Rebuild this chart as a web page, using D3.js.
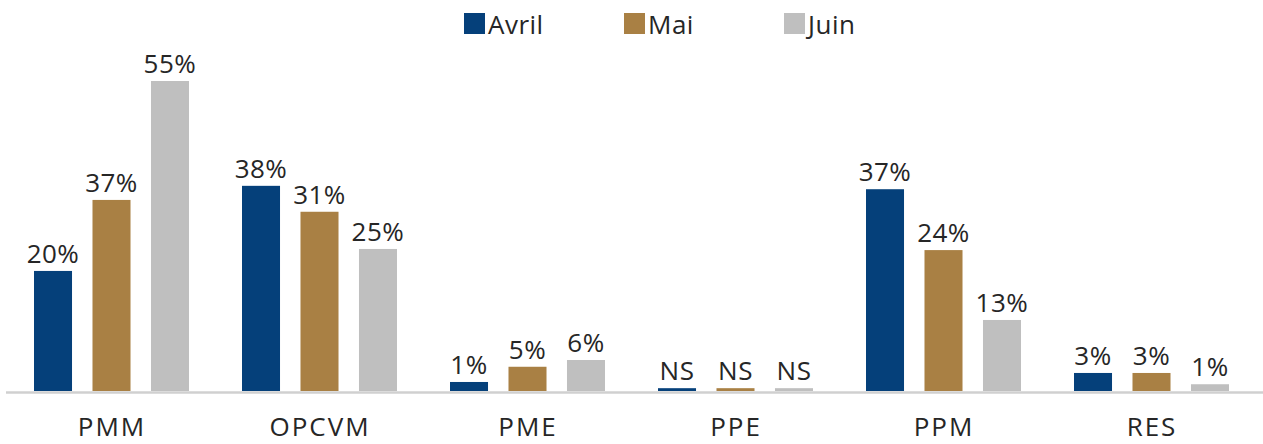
<!DOCTYPE html>
<html>
<head>
<meta charset="utf-8">
<script src="https://cdn.jsdelivr.net/npm/d3@7"></script>
<style>
  body { margin: 0; background: #fff; }
  text { font-family: "Open Sans", sans-serif; fill: #262626; }
</style>
</head>
<body>
<div id="chart"></div>
<script>
// data
var categories = ["PMM", "OPCVM", "PME", "PPE", "PPM", "RES"];
var series = ["Avril", "Mai", "Juin"];
var avril = [21.3, 36.4, 1.6, 0.5, 35.8, 3.2];
var mai = [33.9, 31.8, 4.3, 0.5, 25.0, 3.2];
var juin = [55.0, 25.2, 5.5, 0.5, 12.6, 1.2];
var avrilLabels = ["20%", "38%", "1%", "NS", "37%", "3%"];
var maiLabels = ["37%", "31%", "5%", "NS", "24%", "3%"];
var juinLabels = ["55%", "25%", "6%", "NS", "13%", "1%"];

var values = [avril, mai, juin];
var labels = [avrilLabels, maiLabels, juinLabels];
var colors = ["#05407a", "#a98044", "#bfbfbf"];

var width = 1263;
var height = 444;
var baseline = 391;

var svg = d3
  .select("#chart")
  .append("svg")
  .attr("width", width)
  .attr("height", height);

var x0 = d3
  .scaleBand()
  .domain(categories)
  .range([8, 1256]);

var x1 = d3
  .scaleBand()
  .domain(series)
  .range([26, 181])
  .paddingInner(0.35);

var y = d3
  .scaleLinear()
  .domain([0, 55])
  .range([baseline, 81]);

// one row per category
var rows = categories.map(function(c, i) {
  return series.map(function(s, j) {
    return { cat: c, series: s, value: values[j][i], label: labels[j][i], idx: j };
  });
});

var groups = svg
  .selectAll("g.group")
  .data(rows)
  .enter()
  .append("g")
  .attr("class", "group")
  .attr("transform", function(d, i) {
    return "translate(" + x0(categories[i]) + ",0)";
  });

groups
  .selectAll("rect")
  .data(d => d)
  .enter()
  .append("rect")
  .attr("x", d => x1(d.series))
  .attr("y", d => y(d.value))
  .attr("width", x1.bandwidth())
  .attr("height", d => baseline - y(d.value))
  .style("fill", d => colors[d.idx]);

// value labels
groups
  .selectAll("text")
  .data(d => d)
  .enter()
  .append("text")
  .attr("x", d => x1(d.series) + x1.bandwidth() / 2)
  .attr("y", d => y(d.value) - 8)
  .attr("text-anchor", "middle")
  .style("font-size", "26px")
  .style("letter-spacing", "0.5px")
  .text(d => d.label);

// baseline
svg
  .append("line")
  .attr("x1", 6)
  .attr("x2", width)
  .attr("y1", baseline + 1.5)
  .attr("y2", baseline + 1.5)
  .style("stroke", "#d0d0d0")
  .style("stroke-width", 2.5);

// category labels
var xAxis = svg
  .append("g")
  .attr("transform", "translate(0," + baseline + ")")
  .call(d3.axisBottom(x0).tickSize(0).tickPadding(0));

xAxis.select(".domain").remove();
xAxis
  .selectAll("text")
  .attr("y", 45)
  .attr("dy", 0)
  .style("font-size", "26px")
  .style("font-family", "'Open Sans', sans-serif")
  .style("letter-spacing", "2px")
  .style("fill", "#262626");

// legend
var legend = svg
  .selectAll("g.legend")
  .data(series)
  .enter()
  .append("g")
  .attr("class", "legend")
  .attr("transform", (d, i) => "translate(" + (464 + i * 160) + ",13)");

legend
  .append("rect")
  .attr("width", 21)
  .attr("height", 21)
  .style("fill", (d, i) => colors[i]);

legend
  .append("text")
  .attr("x", 24)
  .attr("y", 21)
  .style("font-size", "26px")
  .style("letter-spacing", "0.5px")
  .text(d => d);
</script>
</body>
</html>
